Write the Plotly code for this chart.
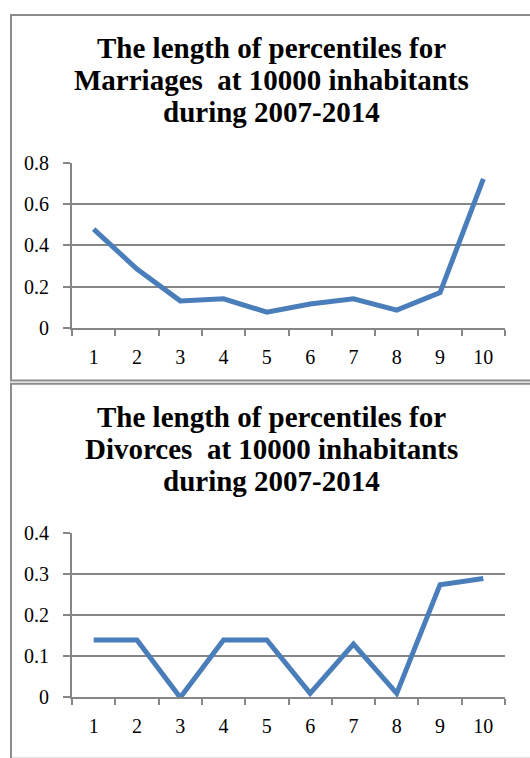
import plotly.graph_objects as go

percentiles = [1, 2, 3, 4, 5, 6, 7, 8, 9, 10]
marriages = [0.48, 0.285, 0.13, 0.14, 0.075, 0.115, 0.14, 0.085, 0.17, 0.725]
divorces = [0.14, 0.14, 0.0, 0.14, 0.14, 0.01, 0.13, 0.01, 0.275, 0.29]
tick_labels = [str(p) for p in percentiles]
title_marriages = ["The length of percentiles for", "Marriages  at 10000 inhabitants", "during 2007-2014"]
title_divorces = ["The length of percentiles for", "Divorces  at 10000 inhabitants", "during 2007-2014"]

W, H = 530, 758
LINE = "#4A7EBB"
GRID = "#868686"
FONT = "Liberation Serif"

def px(xp):
    return xp / W

def py(yp):
    return 1 - yp / H

fig = go.Figure()
fig.add_trace(go.Scatter(x=percentiles, y=marriages, mode="lines",
                         line=dict(color=LINE, width=5), xaxis="x", yaxis="y",
                         showlegend=False, hoverinfo="x+y"))
fig.add_trace(go.Scatter(x=percentiles, y=divorces, mode="lines",
                         line=dict(color=LINE, width=5), xaxis="x2", yaxis="y2",
                         showlegend=False, hoverinfo="x+y"))

xcommon = dict(range=[0.5, 10.5], tickvals=percentiles, ticktext=tick_labels,
               ticks="", showgrid=False, zeroline=False, showline=True,
               linecolor=GRID, linewidth=2,
               tickfont=dict(family=FONT, size=20, color="#000000"),
               ticklabelstandoff=10,
               minor=dict(tick0=0.5, dtick=1, ticks="outside", ticklen=6,
                          tickcolor=GRID, tickwidth=2, showgrid=False))
ycommon = dict(showgrid=True, gridcolor=GRID, gridwidth=2, zeroline=False,
               showline=True, linecolor=GRID, linewidth=2,
               ticks="outside", ticklen=7, tickcolor=GRID, tickwidth=2,
               tickfont=dict(family=FONT, size=20, color="#000000"),
               ticklabelstandoff=10)

fig.update_layout(
    width=W, height=H, margin=dict(l=0, r=0, t=0, b=0),
    paper_bgcolor="white", plot_bgcolor="white",
    xaxis=dict(domain=[px(72), px(505)], anchor="y", **xcommon),
    yaxis=dict(domain=[py(326), py(157)], anchor="x", range=[0, 0.8],
               tickvals=[0, 0.2, 0.4, 0.6, 0.8], ticktext=["0", "0.2", "0.4", "0.6", "0.8"],
               **ycommon),
    xaxis2=dict(domain=[px(72), px(505)], anchor="y2", **xcommon),
    yaxis2=dict(domain=[py(707), py(538)], anchor="x2", range=[0, 0.4],
                tickvals=[0, 0.1, 0.2, 0.3, 0.4], ticktext=["0", "0.1", "0.2", "0.3", "0.4"],
                **ycommon),
)

for lines, ytop in [(title_marriages, 38), (title_divorces, 418)]:
    for i, line in enumerate(lines):
        fig.add_annotation(text="<b>" + line + "</b>", xref="paper", yref="paper",
                           x=px(271), y=py(ytop + 33 * i), xanchor="center", yanchor="middle",
                           showarrow=False, align="center",
                           font=dict(family=FONT, size=29, color="#000000"))

# panel borders
for y0, y1 in [(4, 380.5), (384, 770)]:
    fig.add_shape(type="rect", xref="paper", yref="paper",
                  x0=px(11), x1=px(540), y0=py(y1), y1=py(y0),
                  line=dict(color="#8C8C8C", width=2), fillcolor="rgba(0,0,0,0)",
                  layer="below")

fig.write_html("out.html")
